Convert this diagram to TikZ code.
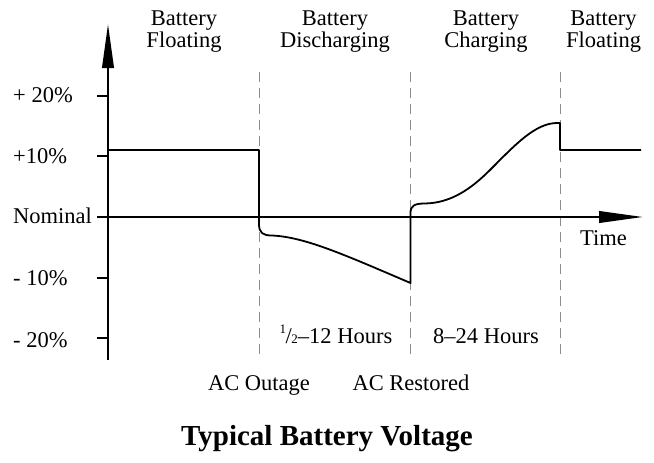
\documentclass[tikz,border=0pt]{standalone}
\usepackage{fontspec}
\setmainfont{Liberation Serif}
\usetikzlibrary{arrows.meta}
\begin{document}
\begin{tikzpicture}[x=1pt,y=-1pt,
  lbl/.style={inner sep=0pt,font=\fontsize{22.5}{22.5}\selectfont},
  axis/.style={line width=2.2pt},
  tick/.style={line width=1.3pt},
  guide/.style={line width=0.9pt,draw=black!45,dash pattern=on 10pt off 6pt},
  curve/.style={line width=1.8pt,line join=round},
  tip/.style={-{Triangle[length=44pt,width=11.5pt]}}]
\useasboundingbox (0,0) rectangle (654,463);
% coordinates
\coordinate (yb) at (108,360);
\coordinate (yt) at (108,24);
\coordinate (xl) at (97,217);
\coordinate (xr) at (643,217);
% guides
\foreach \n/\x in {g1/259,g2/410.5,g3/560}{
  \coordinate (\n a) at (\x,72);
  \coordinate (\n b) at (\x,355);
  \draw[guide] (\n a) -- (\n b);
}
% ticks
\foreach \n/\y in {t1/96,t2/156,t4/278,t5/338}{
  \coordinate (\n a) at (97,\y);
  \coordinate (\n b) at (108,\y);
  \draw[tick] (\n a) -- (\n b);
}
% axes
\draw[axis,tip] (yb) -- (yt);
\draw[axis,tip] (xl) -- (xr);
% voltage curve
\coordinate (c0) at (108,150);
\coordinate (c1) at (259,150);
\coordinate (c2) at (410.5,283);
\coordinate (c3) at (557,123);
\coordinate (c4) at (560,150);
\coordinate (c5) at (641,150);
\draw[curve] (c0) -- (c1) -- (259,224)
  .. controls (259,233) and (263,235.5) .. (272,235.5)
  .. controls (305,237) and (345,255) .. (c2)
  -- (410.5,213)
  .. controls (410.5,206) and (414,203.5) .. (425,203.5)
  .. controls (450,203) and (470,190) .. (490,170)
  .. controls (514,146) and (535,123) .. (c3)
  -- (560,123) -- (c4) -- (c5);
% headers
\node[lbl,anchor=base] (h1a) at (184,25) {Battery};
\node[lbl,anchor=base] (h1b) at (184,47) {Floating};
\node[lbl,anchor=base] (h2a) at (335,25) {Battery};
\node[lbl,anchor=base] (h2b) at (335,47) {Discharging};
\node[lbl,anchor=base] (h3a) at (486,25) {Battery};
\node[lbl,anchor=base] (h3b) at (486,47) {Charging};
\node[lbl,anchor=base] (h4a) at (603.5,25) {Battery};
\node[lbl,anchor=base] (h4b) at (603.5,47) {Floating};
% y labels
\node[lbl,anchor=base west] (p20) at (13,102) {+ 20\%};
\node[lbl,anchor=base west] (p10) at (13,163) {+10\%};
\node[lbl,anchor=base west] (nom) at (13,223) {Nominal};
\node[lbl,anchor=base west] (m10) at (13,285) {- 10\%};
\node[lbl,anchor=base west] (m20) at (13,347) {- 20\%};
% time
\node[lbl,anchor=base] (time) at (603.5,245) {Time};
% durations
\node[lbl,anchor=base] (d1) at (336,343) {\raisebox{0.42em}{\fontsize{13}{13}\selectfont 1}\kern-0.02em/\kern-0.02em{\fontsize{13}{13}\selectfont 2}–12 Hours};
\node[lbl,anchor=base] (d2) at (486,343) {8–24 Hours};
% events
\node[lbl,anchor=base] (ev1) at (259,390) {AC Outage};
\node[lbl,anchor=base] (ev2) at (411,390) {AC Restored};
% title
\node[inner sep=0pt,anchor=base,font=\bfseries\fontsize{29}{29}\selectfont] (title) at (327,445) {Typical Battery Voltage};
\end{tikzpicture}
\end{document}
